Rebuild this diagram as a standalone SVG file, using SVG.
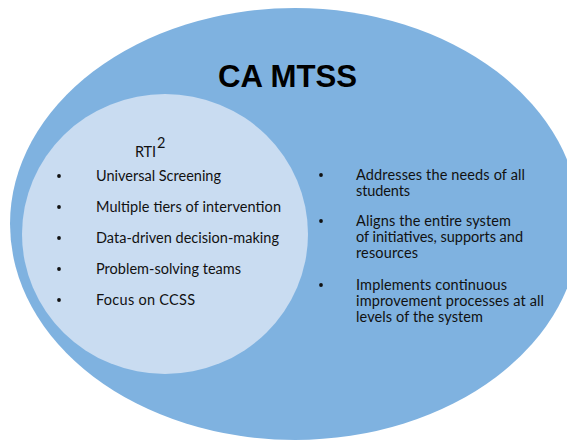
<svg xmlns="http://www.w3.org/2000/svg" width="567" height="441" viewBox="0 0 567 441">
  <style>
    .outer { fill: #7fb2e0; }
    .inner { fill: #c9dcf1; }
    .title { font-family: "Liberation Sans", Arial, sans-serif; font-weight: bold; font-size: 31px; fill: #000; }
    .item { font-family: Lato, "Liberation Sans", sans-serif; font-size: 14.5px; fill: #111; }
    .bullet { fill: #111; }
  </style>
  <rect width="567" height="441" fill="#ffffff"/>

  <!-- outer set: CA MTSS -->
  <g id="mtss">
    <ellipse class="outer" cx="295" cy="224" rx="285" ry="216"/>
    <text class="title" x="218" y="87" textLength="139" lengthAdjust="spacingAndGlyphs">CA MTSS</text>
    <circle class="bullet" cx="321" cy="175" r="1.9"/>
    <circle class="bullet" cx="321" cy="221" r="1.9"/>
    <circle class="bullet" cx="321" cy="285" r="1.9"/>
    <text class="item" x="356" y="180" textLength="169" lengthAdjust="spacing">Addresses the needs of all</text>
    <text class="item" x="356" y="196" textLength="54" lengthAdjust="spacing">students</text>
    <text class="item" x="356" y="226" textLength="155" lengthAdjust="spacing">Aligns the entire system</text>
    <text class="item" x="356" y="242" textLength="167" lengthAdjust="spacing">of initiatives, supports and</text>
    <text class="item" x="356" y="258" textLength="62" lengthAdjust="spacing">resources</text>
    <text class="item" x="356" y="290" textLength="151" lengthAdjust="spacing">Implements continuous</text>
    <text class="item" x="356" y="306" textLength="188" lengthAdjust="spacing">improvement processes at all</text>
    <text class="item" x="356" y="322" textLength="127" lengthAdjust="spacing">levels of the system</text>
  </g>

  <!-- inner set: RTI squared -->
  <g id="rti2">
    <ellipse class="inner" cx="165" cy="234" rx="143" ry="140"/>
    <text class="item" x="135" y="157" textLength="21" lengthAdjust="spacing">RTI</text>
    <text class="item" x="157" y="148" font-size="13">2</text>
    <circle class="bullet" cx="59" cy="176" r="1.9"/>
    <circle class="bullet" cx="59" cy="207" r="1.9"/>
    <circle class="bullet" cx="59" cy="238" r="1.9"/>
    <circle class="bullet" cx="59" cy="269" r="1.9"/>
    <circle class="bullet" cx="59" cy="300" r="1.9"/>
    <text class="item" x="96" y="181" textLength="125" lengthAdjust="spacing">Universal Screening</text>
    <text class="item" x="96" y="212" textLength="185" lengthAdjust="spacing">Multiple tiers of intervention</text>
    <text class="item" x="96" y="243" textLength="183" lengthAdjust="spacing">Data-driven decision-making</text>
    <text class="item" x="96" y="274" textLength="145" lengthAdjust="spacing">Problem-solving teams</text>
    <text class="item" x="96" y="305" textLength="99" lengthAdjust="spacing">Focus on CCSS</text>
  </g>
</svg>
